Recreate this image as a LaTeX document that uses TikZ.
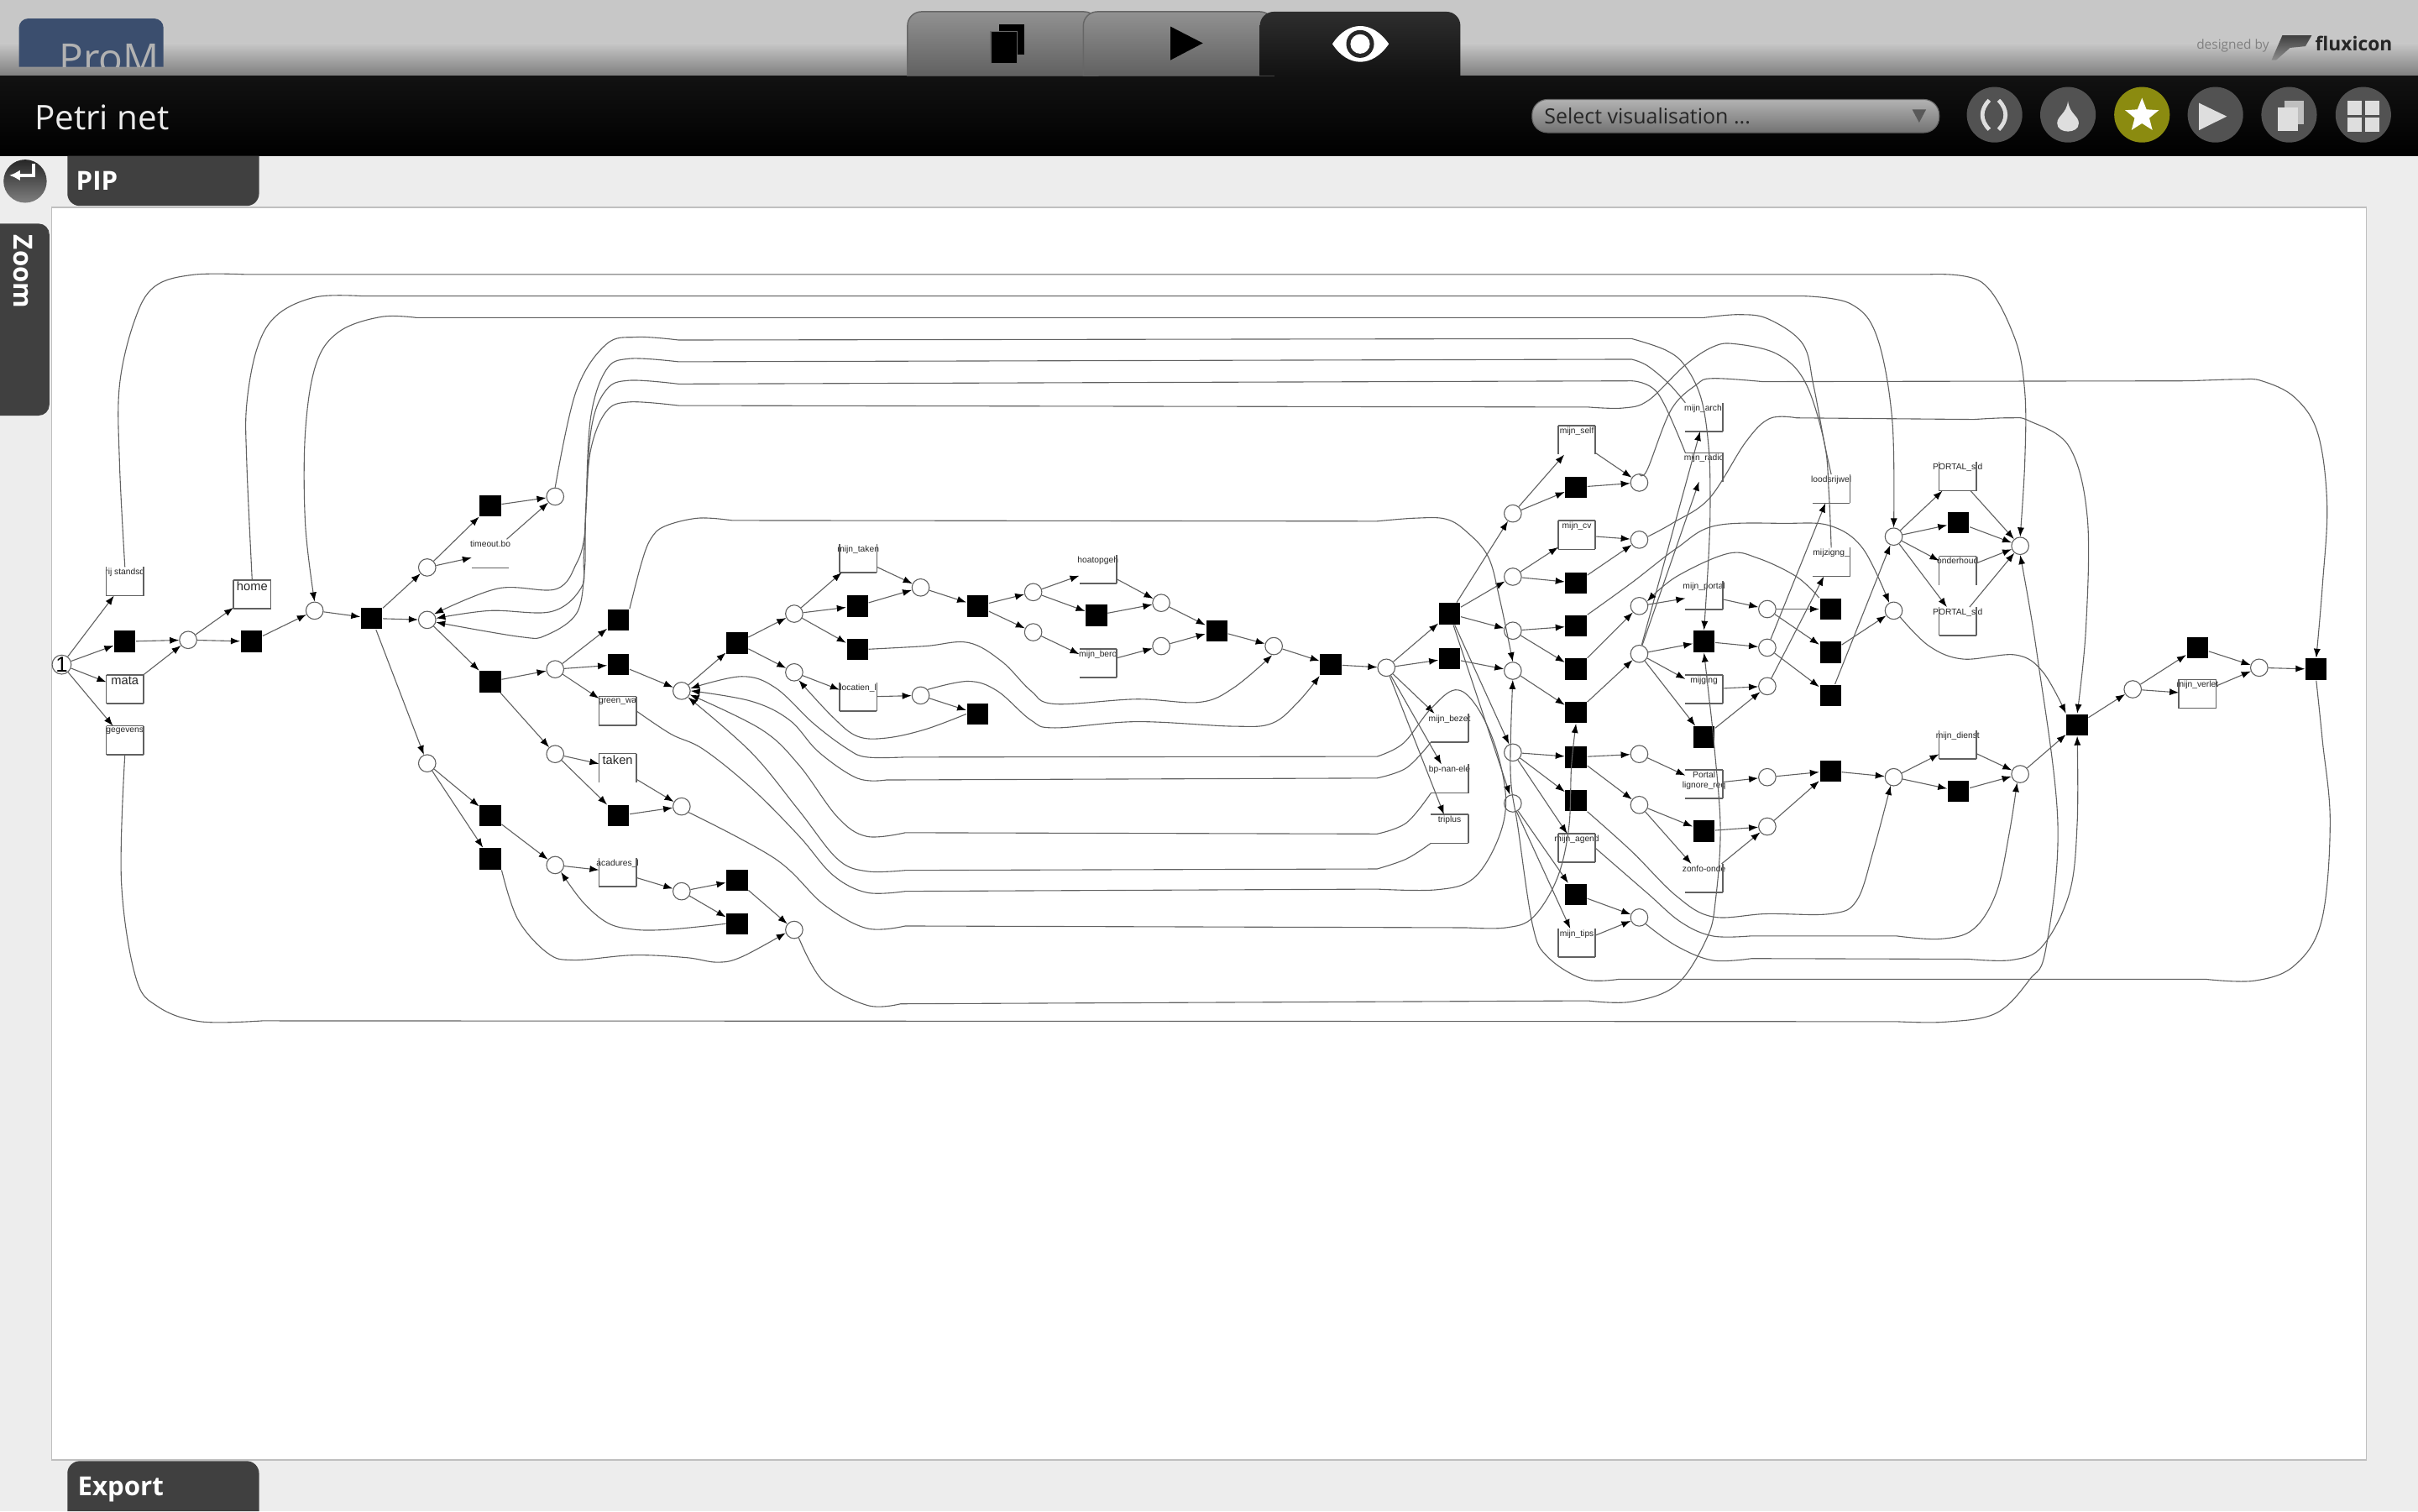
\documentclass[tikz,border=0pt]{standalone}
\usepackage{fontspec}
\setmainfont{Liberation Sans}
\newfontfamily\uifont{Open Sans}
\usetikzlibrary{arrows.meta}
\usetikzlibrary{shapes.geometric}

\definecolor{logoblue}{RGB}{59,78,110}
\definecolor{activebtn}{RGB}{139,139,16}

\tikzset{
	flow/.style={draw=black!62,line width=0.3pt,-{Latex[length=3pt,width=2.2pt,color=black]}},
	boxline/.style={draw=black!62,line width=0.45pt},
	place/.style={circle,draw=black!62,line width=0.3pt,minimum size=5.6pt,inner sep=0pt,font=\fontsize{7}{7}\selectfont},
	trans/.style={rectangle,fill=black,minimum size=6.9pt,inner sep=0pt},
	tasklabel/.style={anchor=north,inner sep=0.35pt,align=center,text=black!85,font=\fontsize{2.8}{3.2}\selectfont},
	biglabel/.style={tasklabel,font=\fontsize{4}{4}\selectfont},
	task/.style={rectangle,minimum width=11.7pt,minimum height=8.9pt,inner sep=0pt,label={[tasklabel]above:#1}},
	bigtask/.style={rectangle,minimum width=11.7pt,minimum height=8.9pt,inner sep=0pt,label={[biglabel]above:#1}},
	sT/.style={append after command={(\tikzlastnode.north west) edge[boxline] (\tikzlastnode.north east)}},
	sR/.style={append after command={(\tikzlastnode.north east) edge[boxline] (\tikzlastnode.south east)}},
	sB/.style={append after command={(\tikzlastnode.south west) edge[boxline] (\tikzlastnode.south east)}},
	sL/.style={append after command={(\tikzlastnode.north west) edge[boxline] (\tikzlastnode.south west)}},
	sA/.style={sT,sR,sB,sL},
	uibtn/.style={circle,fill=#1,minimum size=18pt,inner sep=0pt},
	uitext/.style={font=\uifont\fontsize{8.5}{8.5}\selectfont\bfseries,text=white,inner sep=0pt},
	icon/.style={fill=black!13,draw=none},
}
\newcommand{\bendedge}[1]{\draw[flow] plot[smooth,tension=0.6] coordinates {#1};}
\newcommand{\longedge}[2]{\draw[flow] plot[smooth,tension=0.6] coordinates {#1} -- plot[smooth,tension=0.6] coordinates {#2};}

\begin{document}
\begin{tikzpicture}[x=0.5pt,y=-0.5pt]
	\useasboundingbox (0,0) rectangle (1568,980);

	% window
	\fill[black!7] (0,0) rectangle (1568,980);
	\fill[black!22] (0,0) rectangle (1568,28);
	\shade[top color=black!22,bottom color=black!50] (0,28) rectangle (1568,49);
	\shade[top color=black!93,bottom color=black] (0,49) rectangle (1568,101);
	\draw[fill=white,draw=black!25,line width=0.5pt] (33.5,134.5) rectangle (1534.5,947);

	% logo
	\fill[logoblue] (12.3,43.4) [rounded corners=3pt] -- (12.3,12) -- (106,12) [sharp corners] -- (106,43.4) -- cycle;
	\begin{scope}
		\clip (12,12) rectangle (106,43.4);
		\node[anchor=base west,inner sep=0pt,text=black!30,font=\uifont\fontsize{13}{13}\selectfont] (prom) at (38,47) {ProM};
	\end{scope}

	% tabs
	\shade[top color=black!43,bottom color=black!62,draw=black!60,line width=0.4pt] (588.5,49) [rounded corners=4.5pt] -- (588.5,7.6) -- (712,7.6) [sharp corners] -- (712,49) -- cycle;
	\shade[top color=black!43,bottom color=black!62,draw=black!60,line width=0.4pt] (702.5,49) [rounded corners=4.5pt] -- (702.5,7.6) -- (826,7.6) [sharp corners] -- (826,49) -- cycle;
	\shade[top color=black!82,bottom color=black!93] (817,49) [rounded corners=4.5pt] -- (817,7.6) -- (947,7.6) [sharp corners] -- (947,49) -- cycle;
	\fill[black] (648,16) rectangle (664,35.4);
	\draw[fill=black,draw=black!60,line width=0.4pt] (642.4,20.5) rectangle (659.6,41.2);
	\fill[black] (759,17.2) -- (780,28) -- (759,39) -- cycle;
	\fill[white] (864,28.5) .. controls (874,13) and (890,13) .. (900.6,28.5) .. controls (890,44) and (874,44) .. cycle;
	\fill[black!85] (882,28.5) circle[radius=9];
	\fill[white] (882,28.5) circle[radius=6.3];

	% right of the bar
	\node[anchor=base west,inner sep=0pt,text=black!50,font=\uifont\fontsize{4.2}{4.2}\selectfont] (designed) at (1424,32) {designed by};
	\shade[top color=black!75,bottom color=black!45] (1480,23) -- (1499,23) -- (1495,30) -- (1485,31) -- (1476,39) -- (1473,39) -- cycle;
	\node[anchor=base west,inner sep=0pt,text=black!85,font=\uifont\fontsize{6.2}{6.2}\selectfont\bfseries] (fluxicon) at (1501,33) {fluxicon};
	\node[anchor=base west,inner sep=0pt,text=black!8,font=\uifont\fontsize{11}{11}\selectfont] (title) at (22,84) {Petri net};
	\shade[top color=black!30,bottom color=black!55,draw=black!60,line width=0.3pt,rounded corners=5pt] (993.5,64.5) rectangle (1257.5,86);
	\node[anchor=base west,inner sep=0pt,text=black!85,font=\uifont\fontsize{6.8}{6.8}\selectfont] (select) at (1001,80.5) {Select visualisation ...};
	\fill[black!65] (1240,71) -- (1249,71) -- (1244.5,79.5) -- cycle;

	\node[uibtn=black!68] (btna) at (1293.4,74.4) {};
	\node[uibtn=black!68] (btnb) at (1341,74.4) {};
	\node[uibtn=activebtn] (btnc) at (1389,74.4) {};
	\node[uibtn=black!68] (btnd) at (1436.6,74.4) {};
	\node[uibtn=black!68] (btne) at (1484.4,74.4) {};
	\node[uibtn=black!68] (btnf) at (1532.5,74.4) {};
	\draw[black!13,line width=1.3pt] (1290,65) .. controls (1284,71) and (1284,78) .. (1290,84);
	\draw[black!13,line width=1.3pt] (1296,65) .. controls (1302,71) and (1302,78) .. (1296,84);
	\fill[icon] (1341,65.5) .. controls (1342,74) and (1348,75) .. (1348,80) .. controls (1348,87) and (1334,87) .. (1334,80) .. controls (1334,75) and (1340,74) .. cycle;
	\node[star,star points=5,star point ratio=2.3,fill=white,minimum size=11.5pt,inner sep=0pt] (star) at (1389,75) {};
	\fill[icon] (1426,66.8) -- (1444,75.5) -- (1426,84.4) -- cycle;
	\fill[black!25] (1481.6,65.3) rectangle (1494.2,80.4);
	\fill[icon] (1477,69.9) rectangle (1490,85);
	\foreach \x/\y in {1522/65.3,1533.5/65.3,1522/76.3,1533.5/76.3}
		\fill[icon] (\x,\y) rectangle ++(9.5,9.4);

	% side tabs
	\fill[black!75] (43.7,101) [rounded corners=4pt] -- (43.7,133.5) -- (168,133.5) [sharp corners] -- (168,101) -- cycle;
	\node[uitext,anchor=base west] (pip) at (49,123.5) {PIP};
	\fill[black!75] (43.7,980) [rounded corners=4pt] -- (43.7,947.5) -- (168,947.5) [sharp corners] -- (168,980) -- cycle;
	\node[uitext,anchor=base west] (export) at (50,970) {Export};
	\fill[black!75] (0,145) [rounded corners=3.5pt] -- (32,145) -- (32,269.5) [sharp corners] -- (0,269.5) -- cycle;
	\node[uitext,anchor=base west,rotate=-90] (zoom) at (9,152) {Zoom};
	\shade[top color=black!85,bottom color=black!50] (16.3,117.5) circle[radius=14];
	\draw[white,line width=1pt,-{Latex[length=3.5pt,width=3.5pt]}] (21.7,106) -- (21.7,113.7) -- (6,113.7);

	% places
	\node[place] (p0) at (40,431) {1};
	\foreach \n/\x/\y in {p1/122/415,p2/204/396,p3/277/402,pa/277/368,pb/360/322,pc/360/434,pd/360/489,pe/277/495,pf/360/561,
			pg/442/448,ph/442/523,pi/442/578,pj/515/603,pk/515/398,pl/515/436,pm/597/381,pn/597/451,po/670/384,pp/670/410,
			pq/753/391,pr/753/419,ps/826/419,pt/899/433,q1/981/333,q2/981/374,q3/981/409,q4/981/435,q5/981/488,q6/981/521,
			r1/1063/313,r2/1063/350,r3/1063/393,r4/1063/424,r5/1063/489,r6/1063/522,r7/1063/595,
			s1/1146/395,s2/1146/420,s3/1146/445,s4/1146/504,s5/1146/536,
			u1/1228/348,u2/1228/396,u3/1228/504,u4/1310/354,u5/1310/502,v1/1383/447,v2/1465/433}
		\node[place] (\n) at (\x,\y) {};

	% transitions
	\foreach \n/\x/\y in {t1/81/416,t2/163/416,t3/241/401,t4/318/328,t5/318/442,t6/318/529,t7/318/557,t8/401/402,t9/401/431,t10/401/529,
			t11/478/417,t12/478/571,t13/478/599,t14/556/393,t15/556/421,t16/634/393,t17/634/463,t18/711/399,t19/789/409,t20/863/431,
			t21/940/398,t22/940/427,w1/1022/316,w2/1022/378,w3/1022/406,w4/1022/434,w5/1022/462,w6/1022/491,w7/1022/519,w8/1022/580,
			x1/1105/416,x2/1105/478,x3/1105/539,y1/1187/395,y2/1187/423,y3/1187/451,y4/1187/500,z1/1270/339,z2/1270/513,
			a1/1347/470,a2/1425/420,a3/1502/434}
		\node[trans] (\n) at (\x,\y) {};

	% tasks with a label
	\node[task=rij standsd,sL,sR,sB] (rij) at (81,377) {};
	\node[bigtask=home,sA] (home) at (163.5,385.5) {};
	\node[bigtask=mata,sA] (mata) at (81,447) {};
	\node[task=gegevens,sA] (gegevens) at (81,480) {};
	\node[task=timeout.bo,sB] (timeout) at (318,359) {};
	\node[task=green\_wa,sA] (green) at (400.5,461) {};
	\node[bigtask=taken,sT,sL,sR] (taken) at (400.5,498) {};
	\node[task=acadures\_l,sL,sR,sB] (acadures) at (400.5,565.5) {};
	\node[task=mijn\_taken,sL,sR,sB] (mtaken) at (556.5,362) {};
	\node[task=hoatopgeh,sR,sB] (hoatop) at (712,369) {};
	\node[task=mijn\_bero,sT,sR,sB] (mbero) at (712,430) {};
	\node[task=locatien\_l,sL,sR,sB] (locatie) at (556.5,452) {};
	\node[task=mijn\_bezet,sR,sB] (mbezet) at (940,472) {};
	\node[task=bp-nan-ele,sR,sB] (bpnan) at (940,505) {};
	\node[task=triplus,sT,sR,sB] (triplus) at (940,537.5) {};
	\node[task=mijn\_self,sT,sL,sR] (mself) at (1022.5,285.5) {};
	\node[task=mijn\_cv,sA] (mcv) at (1022.5,347) {};
	\node[task=mijn\_agend,sA] (magend) at (1022.5,550) {};
	\node[task=mijn\_tips,sL,sR,sB] (mtips) at (1022.5,611.5) {};
	\node[task=mijn\_archi,sR,sB] (marchi) at (1105,270.5) {};
	\node[task=mijn\_radio,sT,sR] (mradio) at (1105,303) {};
	\node[task=mijn\_portal,sR,sB] (mportal) at (1105,386) {};
	\node[task=mijging,sT,sR,sB] (mijging) at (1105,447) {};
	\node[task={Portal\\lignore\_req},sT,sR,sB] (lignore) at (1105,508.5) {};
	\node[task=zonfo-onde,sR,sB] (zonfo) at (1105,569.5) {};
	\node[task=loodsrijwel,sR,sB] (loods) at (1187.5,317) {};
	\node[task=mijzigng\_,sR,sB] (mijzig) at (1187.5,364.5) {};
	\node[task=PORTAL\_sid,sL,sR,sB] (porta) at (1269.5,309) {};
	\node[task=onderhoud,sT,sL,sR] (onder) at (1269.5,370) {};
	\node[task=PORTAL\_sid,sL,sR,sB] (portb) at (1269.5,403) {};
	\node[task=mijn\_dienst,sL,sR,sB] (mdienst) at (1269.5,483) {};
	\node[task=mijn\_verlet,sA] (mverlet) at (1425,450) {};

	% straight arcs
	\foreach \a/\b in {p0/rij,p0/t1,p0/mata,p0/gegevens,t1/p1,mata/p1,p1/home,p1/t2,t2/p2,p2/t3,t3/p3,t3/pa,t3/pe,
			pa/t4,pa/timeout,t4/pb,timeout/pb,p3/t5,t5/pc,t5/pd,pc/t8,pc/t9,pc/green,t9/pg,pd/taken,pd/t10,taken/ph,t10/ph,
			pe/t6,pe/t7,t6/pf,pf/acadures,acadures/pi,pi/t12,pi/t13,t12/pj,pg/t11,t11/pk,t11/pl,pk/mtaken,pk/t14,pk/t15,
			mtaken/pm,t14/pm,pm/t16,t16/po,t16/pp,po/hoatop,po/t18,pp/mbero,hoatop/pq,t18/pq,mbero/pr,pq/t19,pr/t19,t19/ps,
			ps/t20,t20/pt,pl/locatie,locatie/pn,pn/t17,pt/t21,pt/t22,pt/mbezet,pt/bpnan,pt/triplus}
		\draw[flow] (\a)--(\b);
	\foreach \a/\b in {t21/q1,t21/q2,t21/q3,t22/q4,t21/q5,t21/q6,q1/mself,q1/w1,mself/r1,w1/r1,q2/mcv,q2/w2,mcv/r2,w2/r2,
			q3/w3,q3/w4,q4/w5,w4/r3,w5/r4,r3/mportal,r4/x1,r4/mijging,r4/x2,r4/marchi,r4/mradio,mportal/s1,x1/s2,mijging/s3,x2/s3,
			s1/y1,s1/y2,s2/loods,s2/y3,s3/mijzig,y2/u2,y3/u1,q5/w6,q5/w7,q5/magend,q6/w8,q6/mtips,w8/r7,mtips/r7,
			w6/r5,w6/r6,r5/lignore,r6/x3,r6/zonfo,lignore/s4,x3/s5,zonfo/s5,s4/y4,s5/y4,y4/u3,u3/mdienst,u3/z2,mdienst/u5,z2/u5,
			u5/a1,a1/v1,v1/a2,v1/mverlet,a2/v2,mverlet/v2,v2/a3,u1/porta,u1/z1,u1/onder,u1/portb,porta/u4,z1/u4,onder/u4,portb/u4}
		\draw[flow] (\a)--(\b);

	% arcs over the top
	\longedge{(rij.north)(77.5,300)(77.5,250)(87,208.6)(100,186)(125,178.2)(160,178)}{(1250,178)(1285,183)(1306,218)(1313,254)(1313,300)(u4.north)}
	\longedge{(home.north)(160,300)(160,262)(167,225)(180,204)(205,192.6)(235,192)}{(1170,192)(1200,197)(1217,218)(1227,272)(u1.north)}
	\longedge{(loods.north)(1183,287)(1176,250)(1169,223)(1147,207)(1128,204)(1105,206)}{(270,206)(247,205.5)(220,215)(205,236)(198,280)(198,340)(p2.north)}
	\longedge{(pb.north)(373.5,254)(393,223.4)(413,218.6)(440,220.5)}{(1058,219.6)(1080,227)(1092.5,237)(1103,258)(1108,290)(1109,326)(1108,360)(x1.north)}
	\longedge{(marchi.north west)(1082,248.6)(1068,237)(1058,233)}{(440,234.6)(408,232.6)(393,240)(383,271)(380,327)(379,348)(374,365)(360.6,382)(323,381.6)(p3.40)}
	\longedge{(mradio.north west)(1075,255)(1058,247)}{(440,249)(408,246.7)(393,253)(383.5,277.5)(380,330)(378.5,362)(377,381)(357.6,396.6)(317.6,396)(p3.10)}
	\longedge{(mijzig.north)(1186,320)(1183,287)(1170.5,247.7)(1152.4,229.6)(1125,223)(1110.6,225)(1092.5,237)(1069,259.6)(1052.6,264.6)(1030,264)}{(440,263)(408,260.7)(393,267)(383,292)(380,330)(379.5,350)(379,370)(374,397.6)(354,412)(337.6,413)(p3.-15)}
	\longedge{(r1.north)(1068,305)(1083.5,266)(1100,249.5)(1110.6,245.4)(1143,247.5)}{(1420,247)(1451.6,246)(1466.7,247)(1488,257.7)(1503,281)(1509,327)(1506,380)(a3.north)}
	\longedge{(r2.20)(1085,339)(1108.6,323)(1132,286.7)(1147.6,271.4)(1165,271)}{(1280,272)(1303,271)(1316,273)(1342,290)(1353.6,336)(1352.6,408)(a1.north)}
	\bendedge{(w3.north east)(1058,378)(1087,355.7)(1112,341)(1157.6,339.4)(1187,341)(1208,355.7)(u2.120)}
	\bendedge{(y1.north west)(1165,374)(1140,362)(1120.4,359)(1087,374)(r3.30)}
	\bendedge{(u2.-45)(1251,419)(1273,427.4)(1307,424.7)(1324.6,435.6)(a1.north west)}

	% arcs under the net
	\longedge{(gegevens.south)(78.7,571.6)(88,633.7)(102.4,652.8)(130,662.5)(170,662)}{(1230,662.5)(1262,662.7)(1294.5,657)(1316,635.4)(1326.7,615)(1334.4,533.6)(1321,424.7)(u4.south)}
	\longedge{(a3.south)(1506,480)(1511,533.6)(1505.5,597)(1488,626)(1462,636)(1430,635)}{(1050,635)(1027,635)(1003.7,620.6)(994,600.7)(984.4,537)(979.5,501)(q4.south)}
	\longedge{(pj.-60)(534,636.6)(562.6,652)(584,651)}{(1030,649)(1058,649.6)(1087,638.8)(1107,608)(1112.6,582.6)(1115.6,537)(1111.7,484.6)(1108,450)(x1.south)}
	\bendedge{(w7.south east)(1058,552)(1087,581)(1110.6,594.5)(1145.6,592.6)(1187,592.6)(1204,584)(1214.8,551.7)(u3.-110)}
	\longedge{(magend.east)(1068,579)(1090,598)(1110.6,607)(1135,607)}{(1230,607)(1258,608.9)(1279.6,602.6)(1294.5,579)(1303,540)(u5.-110)}
	\longedge{(r7.-45)(1087,613.4)(1110.6,622.8)(1135.8,621.6)}{(1277,622)(1305,622.5)(1324.6,613.4)(1342,578.9)(1347,533.6)(a1.south)}

	% arcs back to the middle
	\draw[flow] plot[smooth,tension=0.6] coordinates {(green.east)(435,476)(455.9,485.8)(487,510.8)(518,542)(540,567.4)(562,578.8)(587,578)}
		-- plot[smooth,tension=0.6] coordinates {(893,576.6)(931.6,577)(955,570)(970.7,546)(976.5,519)(970,485)(957,457.3)(943.6,447.4)(927.5,460)(910,482)(893,490.6)}
		-- plot[smooth,tension=0.6] coordinates {(587,491)(562.2,491)(549.7,485.8)(527.8,469.4)(502.8,446)(480.8,438.7)(pg.15)};
	\longedge{(mbezet.south west)(912,498)(893,504.6)}{(574.7,505.8)(556,504.7)(531,487.8)(512,467)(487,454.7)(pg.0)}
	\longedge{(bpnan.south west)(912,533.6)(893,540.8)}{(587,540)(562,542.4)(543,529.8)(518,496)(493.6,473)(pg.-25)}
	\longedge{(triplus.south west)(912,557)(893,563.5)}{(587,564.4)(562,565)(543,557)(518,525.5)(487,487.8)(pg.-45)}
	\longedge{(ph.-40)(502.8,557)(534,586.4)(562,602)(587,600.5)}{(951,601.6)(976.5,601.6)(994,595)(1009.6,570)(1017.3,537)(1019,497)(w5.south)}
	\longedge{(t8.north east)(416,365)(422,349.5)(431,341.3)(452.8,336)(474.8,337.5)}{(893,338)(918,336)(937.6,336.6)(951,344.8)(965,361)(972.4,388)(q4.north)}
	\bendedge{(t7.south east)(335.7,596)(355,618)(372,622.6)(410.6,619.4)(445,621)(465,624)(480.8,620.6)(pj.200)}
	\bendedge{(t13.west)(457,600.6)(430,603)(410.6,602.7)(394,598.5)(378,585)(pf.-50)}
	\bendedge{(t15.east)(600,419)(627.8,416.7)(649.7,429)(668.5,448)(684,456.5)(737,453.4)(777.8,455.4)(800,446)(ps.-100)}
	\bendedge{(t17.west)(600,473)(574.7,478.6)(556,477.5)(540,465)(pl.-60)}
	\bendedge{(pn.40)(627.8,441.8)(646.6,448)(668.5,467)(684,472)(737,468)(800,471)(825,469)(842,455)(t20.south west)}
\end{tikzpicture}
\end{document}
